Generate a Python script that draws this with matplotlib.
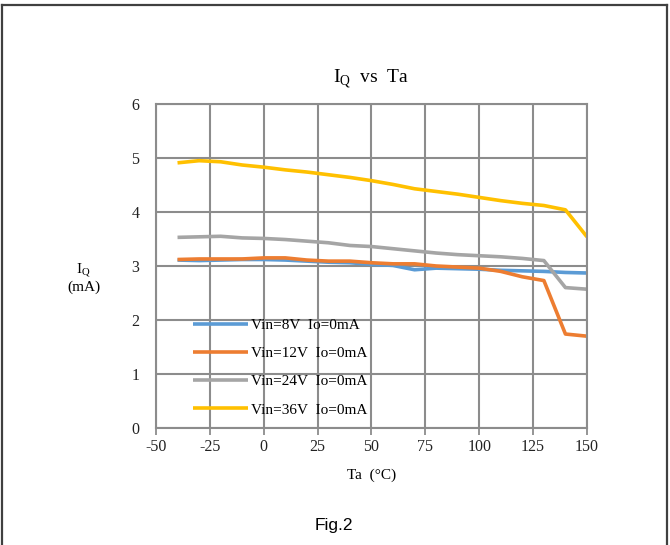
import matplotlib
matplotlib.use("Agg")
import matplotlib.pyplot as plt
from matplotlib.lines import Line2D

plt.rcParams['font.family'] = ['Liberation Serif', 'DejaVu Serif']
plt.rcParams['mathtext.fontset'] = 'custom'
plt.rcParams['mathtext.rm'] = 'Liberation Serif'
plt.rcParams['axes.unicode_minus'] = False

# temperatures (°C) and quiescent current (mA) per input voltage
temps = [-40, -30, -20, -10, 0, 10, 20, 30, 40, 50, 60, 70, 80, 90, 100, 110, 120, 130, 140, 150]
iq_8v = [3.11, 3.10, 3.11, 3.12, 3.12, 3.11, 3.09, 3.07, 3.06, 3.03, 3.01, 2.93, 2.96, 2.95, 2.94, 2.92, 2.91, 2.90, 2.88, 2.87]
iq_12v = [3.12, 3.13, 3.13, 3.13, 3.15, 3.15, 3.11, 3.09, 3.09, 3.06, 3.04, 3.04, 3.00, 2.98, 2.96, 2.90, 2.80, 2.73, 1.74, 1.70]
iq_24v = [3.53, 3.54, 3.55, 3.52, 3.51, 3.49, 3.46, 3.43, 3.38, 3.36, 3.32, 3.28, 3.24, 3.21, 3.19, 3.17, 3.14, 3.10, 2.60, 2.57]
iq_36v = [4.91, 4.95, 4.93, 4.87, 4.83, 4.78, 4.74, 4.69, 4.64, 4.58, 4.51, 4.43, 4.38, 4.33, 4.27, 4.21, 4.16, 4.12, 4.04, 3.54]

labels = ['Vin=8V  Io=0mA', 'Vin=12V  Io=0mA', 'Vin=24V  Io=0mA', 'Vin=36V  Io=0mA']
colors = ['#5B9BD5', '#ED7D31', '#A5A5A5', '#FFC000']
x_ticks = [-50, -25, 0, 25, 50, 75, 100, 125, 150]
y_ticks = [0, 1, 2, 3, 4, 5, 6]

fig = plt.figure(figsize=(6.7, 5.45), dpi=100)
ax = fig.add_axes([0.2328, 0.2147, 0.6433, 0.5945])

for ys, lab, col in zip([iq_8v, iq_12v, iq_24v, iq_36v], labels, colors):
    ax.plot(temps, ys, color=col, lw=2.6, label=lab, solid_capstyle='butt')

grid_col = '#8c8c8c'
ax.set_xlim(-50, 150)
ax.set_ylim(0, 6)
ax.set_xticks(x_ticks)
ax.set_yticks(y_ticks)
ax.grid(True, color=grid_col, lw=1.5)
ax.set_axisbelow(True)
for s in ax.spines.values():
    s.set_color(grid_col)
    s.set_linewidth(1.5)
ax.tick_params(axis='x', colors=grid_col, length=5, width=1.3, labelcolor='#222222', labelsize=11.5, pad=3)
ax.tick_params(axis='y', length=0, labelcolor='#222222', labelsize=11.5, pad=12)

ax.set_title(r'I$_\mathregular{Q}$  vs  Ta', fontsize=14, pad=15)
ax.set_xlabel('Ta  (°C)', fontsize=11, labelpad=10)
fig.text(0.125, 0.49, 'I$_\\mathregular{Q}$\n(mA)', ha='center', va='center', fontsize=11, linespacing=1.1)

leg = ax.legend(loc='upper left', bbox_to_anchor=(0.055, 0.381), frameon=False,
                handlelength=3.6, handletextpad=0.2, labelspacing=0.95, fontsize=11)

fig.text(0.499, 0.028, 'Fig.2', fontsize=12.5, ha='center', family='Liberation Sans')

# outer frame (left, top, right)
fr = '#404040'
fig.add_artist(Line2D([0.003, 0.003], [0, 0.99], transform=fig.transFigure, color=fr, lw=1.6))
fig.add_artist(Line2D([0.003, 0.996], [0.99, 0.99], transform=fig.transFigure, color=fr, lw=1.6))
fig.add_artist(Line2D([0.996, 0.996], [0, 0.99], transform=fig.transFigure, color=fr, lw=1.6))

fig.savefig('out.png', dpi=100)
